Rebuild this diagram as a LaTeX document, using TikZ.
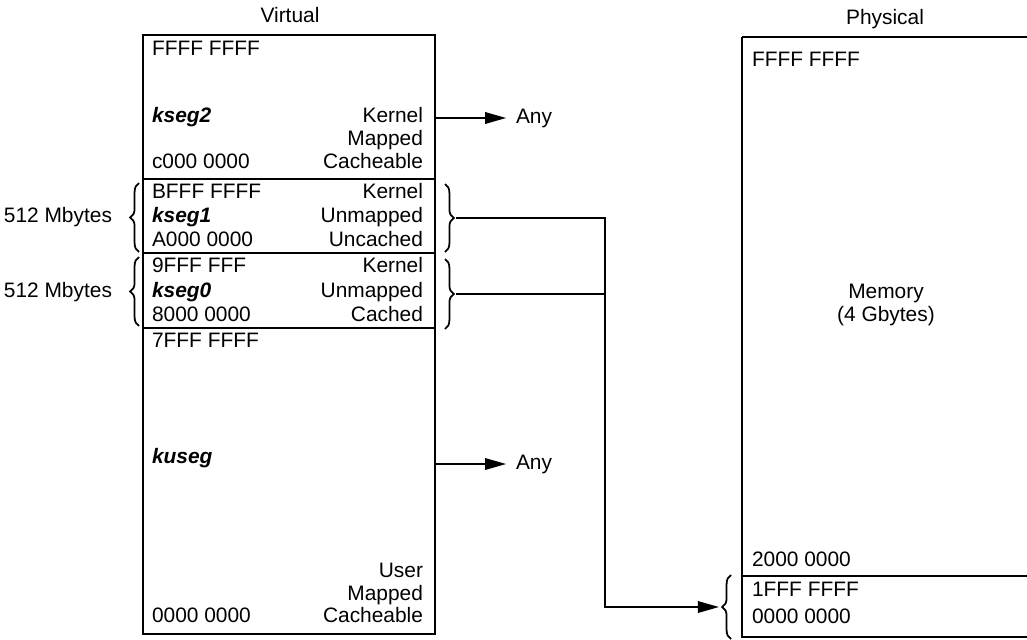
\documentclass[tikz,border=0pt]{standalone}
\usepackage{fontspec}
\setmainfont{Liberation Sans}
\usetikzlibrary{arrows.meta,decorations.pathreplacing}
\begin{document}
\begin{tikzpicture}[x=0.02cm,y=-0.02cm,line width=1.15pt,
  every node/.style={inner sep=0,font=\fontsize{11.9}{14}\selectfont},
  addr/.style={anchor=base west},
  attr/.style={anchor=base east},
  segname/.style={anchor=base west,font=\fontsize{11.9}{14}\selectfont\bfseries\itshape},
  arr/.style={-{Triangle[length=12pt,width=6.5pt]}},
  brc/.style={decorate,decoration={brace,amplitude=5pt},line width=1pt}]
\useasboundingbox (0,0) rectangle (1027,639);
% virtual side
\node[anchor=base] (vtitle) at (290,22.5) {Virtual};
\draw (143,35) rectangle (435,634);
\draw (143,179) -- (435,179);
\draw (143,253) -- (435,253);
\draw (143,328) -- (435,328);
\node[addr] (vtop) at (151,55.5) {FFFF FFFF};
\node[segname] (kseg2) at (151,122) {kseg2};
\node[attr] (k2a) at (424,122) {Kernel};
\node[attr] (k2b) at (424,145) {Mapped};
\node[addr] (k2lo) at (151,168.5) {c000 0000};
\node[attr] (k2c) at (424,168.5) {Cacheable};
\node[addr] (k1hi) at (151,198.5) {BFFF FFFF};
\node[attr] (k1a) at (424,198.5) {Kernel};
\node[segname] (kseg1) at (151,222.5) {kseg1};
\node[attr] (k1b) at (424,222.5) {Unmapped};
\node[addr] (k1lo) at (151,246.5) {A000 0000};
\node[attr] (k1c) at (424,246.5) {Uncached};
\node[addr] (k0hi) at (151,272) {9FFF FFF};
\node[attr] (k0a) at (424,272) {Kernel};
\node[segname] (kseg0) at (151,297.5) {kseg0};
\node[attr] (k0b) at (424,297.5) {Unmapped};
\node[addr] (k0lo) at (151,321.5) {8000 0000};
\node[attr] (k0c) at (424,321.5) {Cached};
\node[addr] (kuhi) at (151,347.5) {7FFF FFFF};
\node[segname] (kuseg) at (151,463.5) {kuseg};
\node[attr] (kua) at (424,577) {User};
\node[attr] (kub) at (424,600) {Mapped};
\node[addr] (kulo) at (151,622) {0000 0000};
\node[attr] (kuc) at (424,622) {Cacheable};
% sizes on the left
\node[attr] (size1) at (113,222.5) {512 Mbytes};
\node[attr] (size0) at (113,297.5) {512 Mbytes};
\draw[brc] (139,252) -- (139,183);
\draw[brc] (139,326) -- (139,257);
% braces on the right
\draw[brc] (445,184) -- (445,252);
\draw[brc] (445,259) -- (445,329);
\coordinate (k1tip) at (456,218);
\coordinate (k0tip) at (456,294);
% mapped segments
\coordinate (k2out) at (435,118);
\coordinate (kuout) at (435,464);
\node[anchor=base west] (any2) at (515,123) {Any};
\node[anchor=base west] (anyu) at (515,469) {Any};
\draw[arr,shorten >=5pt] (k2out) -- (k2out -| any2.west);
\draw[arr,shorten >=5pt] (kuout) -- (kuout -| anyu.west);
% physical side
\node[anchor=base] (ptitle) at (885,24.5) {Physical};
\draw (742,37) -- (1030,37) (742,37) -- (742,637) -- (1030,637);
\draw (742,576) -- (1030,576);
\node[addr] (ptop) at (751,66) {FFFF FFFF};
\node[anchor=base] (mem) at (886,298) {Memory};
\node[anchor=base] (memsz) at (886,321.5) {(4 Gbytes)};
\node[addr] (p2k) at (751,566) {2000 0000};
\node[addr] (p1f) at (751,596) {1FFF FFFF};
\node[addr] (pzero) at (751,623) {0000 0000};
\draw[brc] (731,639) -- (731,575);
\coordinate (ptip) at (719,607);
% unmapped segments go to low memory
\coordinate (bend) at (605,607);
\draw[arr] (k1tip) -| (bend) -- (ptip);
\draw (k0tip) -- (k0tip -| bend);
\end{tikzpicture}
\end{document}
